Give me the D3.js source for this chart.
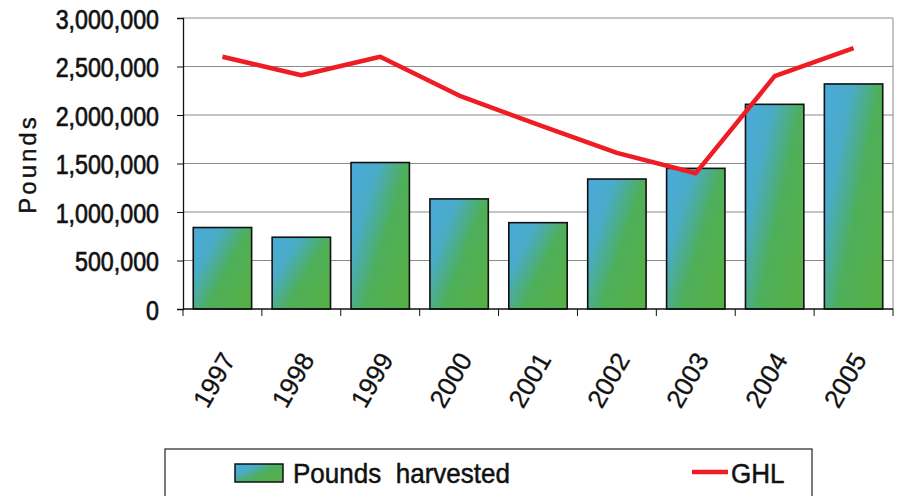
<!DOCTYPE html>
<html>
<head>
<meta charset="utf-8">
<script src="https://cdn.jsdelivr.net/npm/d3@7"></script>
<style>
  html, body { margin: 0; padding: 0; background: #fff; }
  svg { display: block; }
</style>
</head>
<body>
<svg id="chart" width="901" height="496"></svg>
<script>
// Harvest vs. guideline harvest level (GHL), in pounds
const years = ["1997", "1998", "1999", "2000", "2001", "2002", "2003", "2004", "2005"];
const poundsHarvested = [840000, 740000, 1510000, 1135000, 890000, 1340000, 1450000, 2110000, 2320000];
const ghl = [2600000, 2410000, 2600000, 2200000, 1900000, 1610000, 1400000, 2400000, 2690000];
const yTicks = [0, 500000, 1000000, 1500000, 2000000, 2500000, 3000000];

const svg = d3.select("#chart");
const font = "'Liberation Sans', Arial, Helvetica, sans-serif";

const plot = { left: 183, right: 893, top: 18, bottom: 309 };

const x = d3.scaleBand().domain(years).range([plot.left, plot.right]).paddingInner(0.26).paddingOuter(0.13);
const xEdge = d3.scaleBand().domain(years).range([plot.left, plot.right]);
const y = d3.scaleLinear().domain([0, 3000000]).range([plot.bottom, plot.top]);

// Bar fill: blue toward the upper left, green toward the lower right
const defs = svg.append("defs");
const grad = defs.append("linearGradient").attr("id", "barFill")
  .attr("x1", 0).attr("y1", 0).attr("x2", 1).attr("y2", 0.75);
[[0, "#4aaadb"], [0.3, "#4aabc8"], [0.62, "#4eaf5a"], [1, "#56b048"]].forEach(([o, c]) =>
  grad.append("stop").attr("offset", o).attr("stop-color", c));

// Gridlines
svg.append("g").selectAll("line").data(yTicks.slice(1)).join("line")
  .attr("x1", plot.left).attr("x2", plot.right)
  .attr("y1", d => y(d)).attr("y2", d => y(d))
  .attr("stroke", "#8a8a8a").attr("stroke-width", 1);

// Right border of plot area
svg.append("line").attr("x1", plot.right).attr("x2", plot.right)
  .attr("y1", plot.top).attr("y2", plot.bottom)
  .attr("stroke", "#8a8a8a").attr("stroke-width", 1);

// Bars
svg.append("g").selectAll("rect").data(years).join("rect")
  .attr("x", d => x(d))
  .attr("width", x.bandwidth())
  .attr("y", (d, i) => y(poundsHarvested[i]))
  .attr("height", (d, i) => y(0) - y(poundsHarvested[i]))
  .attr("fill", "url(#barFill)")
  .attr("stroke", "#111").attr("stroke-width", 1.6);

// GHL line
const line = d3.line()
  .x((d, i) => x(years[i]) + x.bandwidth() / 2)
  .y(d => y(d));
svg.append("path").datum(ghl)
  .attr("d", line)
  .attr("fill", "none")
  .attr("stroke", "#ee1c24").attr("stroke-width", 4.5)
  .attr("stroke-linejoin", "round");

// Y axis (labels drawn horizontally condensed)
const yAxis = svg.append("g").attr("transform", `translate(${plot.left},0)`)
  .call(d3.axisLeft(y).tickValues(yTicks).tickSize(6).tickFormat(""));
yAxis.select(".domain").attr("stroke", "#111").attr("stroke-width", 1.3);
yAxis.selectAll(".tick line").attr("stroke", "#111");
yAxis.selectAll(".tick").append("text")
  .attr("transform", "translate(-24,0) scale(0.83,1)")
  .attr("text-anchor", "end")
  .attr("dy", "0.36em")
  .attr("fill", "#111").attr("stroke", "#111").attr("stroke-width", 0.7)
  .style("font-family", font).style("font-size", "28px")
  .text(d => d3.format(",")(d));

// X axis with ticks at category boundaries
const xAxisG = svg.append("g").attr("transform", `translate(0,${plot.bottom})`);
xAxisG.append("line").attr("x1", plot.left).attr("x2", plot.right)
  .attr("y1", 0).attr("y2", 0).attr("stroke", "#111").attr("stroke-width", 1.3);
const edges = years.map(d => xEdge(d)).concat([plot.right]);
xAxisG.selectAll("line.edge").data(edges).join("line").attr("class", "edge")
  .attr("x1", d => d).attr("x2", d => d).attr("y1", 0).attr("y2", 7)
  .attr("stroke", "#111").attr("stroke-width", 1);

// Rotated year labels
xAxisG.selectAll("text").data(years).join("text")
  .attr("transform", d => `translate(${x(d) + x.bandwidth() / 2 + 6},${46}) rotate(-60)`)
  .attr("text-anchor", "end")
  .attr("dy", "0.35em")
  .style("font-family", font).style("font-size", "26px").attr("fill", "#111")
  .attr("stroke", "#111").attr("stroke-width", 0.3)
  .text(d => d);

// Y axis title
svg.append("text")
  .attr("transform", "translate(36,164) rotate(-90)")
  .attr("text-anchor", "middle")
  .style("font-family", font).style("font-size", "24px").style("letter-spacing", "3px")
  .attr("fill", "#111").attr("stroke", "#111").attr("stroke-width", 0.4)
  .text("Pounds");

// Legend
const lg = svg.append("g");
lg.append("rect").attr("x", 165).attr("y", 449).attr("width", 647).attr("height", 70)
  .attr("fill", "#fff").attr("stroke", "#333").attr("stroke-width", 1.3);
lg.append("rect").attr("x", 235).attr("y", 464).attr("width", 48).attr("height", 18)
  .attr("fill", "url(#barFill)").attr("stroke", "#111").attr("stroke-width", 1.5);
lg.append("text")
  .attr("transform", "translate(293,483) scale(0.93,1)")
  .style("font-family", font).style("font-size", "28px").attr("fill", "#111")
  .attr("stroke", "#111").attr("stroke-width", 0.5)
  .attr("xml:space", "preserve")
  .text("Pounds  harvested");
lg.append("line").attr("x1", 692).attr("x2", 728).attr("y1", 472).attr("y2", 472)
  .attr("stroke", "#ee1c24").attr("stroke-width", 4.5);
lg.append("text")
  .attr("transform", "translate(731,483) scale(0.93,1)")
  .style("font-family", font).style("font-size", "28px").attr("fill", "#111")
  .attr("stroke", "#111").attr("stroke-width", 0.5)
  .text("GHL");
</script>
</body>
</html>
